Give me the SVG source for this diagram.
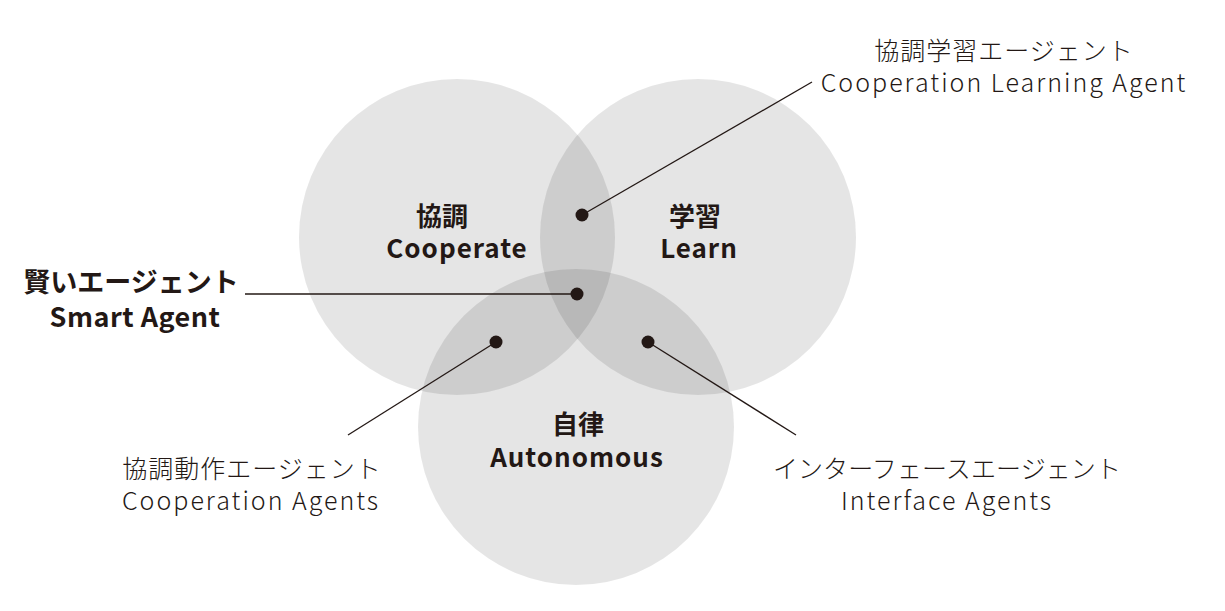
<svg xmlns="http://www.w3.org/2000/svg" width="1225" height="611" viewBox="0 0 1225 611">
<style>
.c{fill:#000;fill-opacity:0.1}
.b{font-family:"Noto Sans CJK JP","Noto Sans",sans-serif;font-weight:700;font-size:26px;fill:#231815;text-anchor:middle}
.be{letter-spacing:1px}
.l{font-family:"Noto Sans CJK JP","Noto Sans",sans-serif;font-weight:300;font-size:25px;fill:#231815;text-anchor:middle;letter-spacing:1px}
.le{letter-spacing:2px}
.ln{stroke:#231815;stroke-width:1.3;fill:none}
.d{fill:#231815}
</style>
<rect width="1225" height="611" fill="#fff"/>
<g id="circle-cooperate">
<circle class="c" cx="457" cy="237" r="158"/>
<text class="b" x="442" y="226">協調</text>
<text class="b be" x="457" y="258">Cooperate</text>
</g>
<g id="circle-learn">
<circle class="c" cx="698" cy="237" r="158"/>
<text class="b" x="695" y="226">学習</text>
<text class="b be" x="699" y="258">Learn</text>
</g>
<g id="circle-autonomous">
<circle class="c" cx="576" cy="427" r="158"/>
<text class="b" x="578" y="434">自律</text>
<text class="b be" x="577" y="467">Autonomous</text>
</g>
<g id="connectors">
<line class="ln" x1="582" y1="215" x2="812" y2="82"/>
<line class="ln" x1="577" y1="294" x2="245" y2="294"/>
<line class="ln" x1="496" y1="342" x2="348" y2="435"/>
<line class="ln" x1="648" y1="342" x2="796" y2="435"/>
<circle class="d" cx="582" cy="215" r="6.5"/>
<circle class="d" cx="577" cy="294" r="6.5"/>
<circle class="d" cx="496" cy="342" r="6.5"/>
<circle class="d" cx="648" cy="342" r="6.5"/>
</g>
<g id="label-smart">
<text class="b" x="131" y="292" style="font-size:27px">賢いエージェント</text>
<text class="b" x="135" y="327" style="font-size:27px;letter-spacing:0.5px">Smart Agent</text>
</g>
<g id="label-coop-learning">
<text class="l" x="1004" y="60">協調学習エージェント</text>
<text class="l le" x="1004" y="92">Cooperation Learning Agent</text>
</g>
<g id="label-coop-agents">
<text class="l" x="252" y="478">協調動作エージェント</text>
<text class="l le" x="251" y="510">Cooperation Agents</text>
</g>
<g id="label-interface">
<text class="l" x="947" y="478" style="letter-spacing:0.1px">インターフェースエージェント</text>
<text class="l le" x="947" y="510">Interface Agents</text>
</g>
</svg>
